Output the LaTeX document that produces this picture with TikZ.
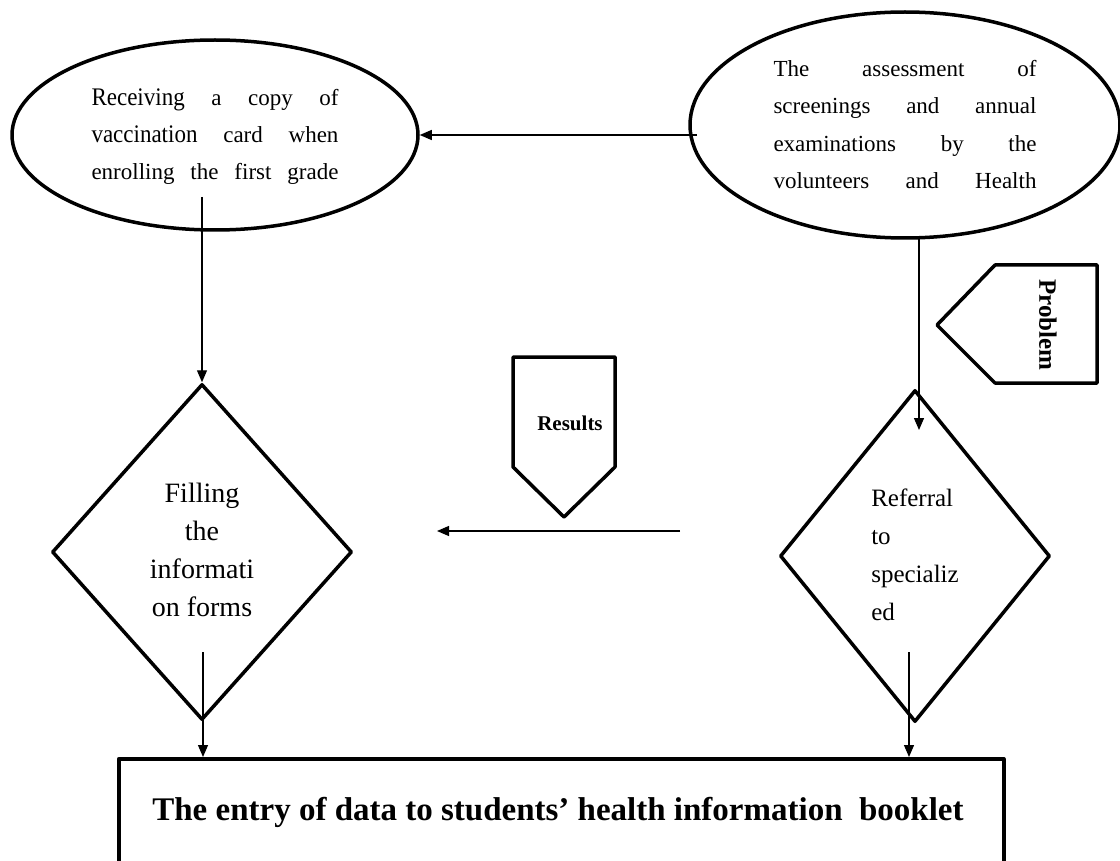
\documentclass[tikz,border=0pt]{standalone}
\usepackage{fontspec}
\setmainfont{Liberation Serif}
\usetikzlibrary{shapes.geometric,arrows.meta}
\newcommand\spreadline[2]{\makebox[#1][s]{#2}}
\begin{document}
\begin{tikzpicture}[x=1pt,y=-1pt,
  shapeline/.style={draw=black,line width=3.5pt,line join=round},
  conn/.style={draw=black,line width=1.3pt},
  arr/.style={conn,-{Triangle[length=12pt,width=10pt]}},
  oval/.style={shapeline,ellipse,inner sep=0pt},
  dia/.style={shapeline,diamond,inner sep=0pt},
  lbl/.style={inner sep=0pt}]
\useasboundingbox[fill=white] (0,0) rectangle (1120,861);
\clip (0,0) rectangle (1120,861);

% ellipses
\node[oval,minimum width=406pt,minimum height=190pt] (receive) at (215,135)
 {\fontsize{23}{37}\selectfont\begin{tabular}{@{}c@{}}
  \spreadline{247pt}{\scalebox{1}[1.1]{Receiving} a copy of}\\
  \spreadline{247pt}{\scalebox{1}[1.1]{vaccination} card when}\\
  \spreadline{247pt}{enrolling the first grade}\end{tabular}};
\node[oval,minimum width=430pt,minimum height=226pt] (assess) at (905,125)
 {\fontsize{23}{37.3}\selectfont\begin{tabular}{@{}c@{}}
  \spreadline{263pt}{The assessment of}\\
  \spreadline{263pt}{screenings and annual}\\
  \spreadline{263pt}{examinations by the}\\
  \spreadline{263pt}{volunteers and Health}\end{tabular}};

% diamonds
\node[dia,minimum width=300pt,minimum height=336pt] (fill) at (202,552)
 {\fontsize{28}{38}\selectfont\begin{tabular}{@{}c@{}}Filling\\the\\informati\\on forms\end{tabular}};
\node[dia,minimum width=270pt,minimum height=332pt] (refer) at (915,556)
 {\fontsize{25}{38}\selectfont\begin{tabular}{@{}l@{}}Referral\\to\\specializ\\ed\end{tabular}};

% results and problem tags
\draw[shapeline] (513,357) -- (615,357) -- (615,467) -- (564,517) -- (513,467) -- cycle;
\node[lbl,font=\bfseries\fontsize{21}{25}\selectfont] (results) at (570,423) {Results};
\draw[shapeline] (995,265) -- (1097,265) -- (1097,383) -- (995,383) -- (937,325) -- cycle;
\node[lbl,rotate=-90,font=\bfseries\fontsize{25}{30}\selectfont] (problem) at (1048,325) {Problem};

% bottom box
\node[shapeline,rectangle,inner sep=0pt,anchor=north west,minimum width=885pt,minimum height=200pt] (entry) at (117,757) {};
\node[lbl,font=\bfseries\fontsize{33}{38}\selectfont] (entrytext) at (558,812) {The entry of data to students’ health information\ \ booklet};

% connectors
\coordinate (c1) at (202,197);
\coordinate (c2) at (919,238);
\coordinate (c3) at (919,430);
\coordinate (c4) at (697,135);
\coordinate (c5) at (680,531);
\coordinate (c6) at (437,531);
\coordinate (c7) at (203,652);
\coordinate (c8) at (909,652);
\draw[arr] (c1) -- (fill.north);
\draw[arr] (c2) -- (c3);
\draw[arr] (c4) -- (receive.east);
\draw[arr] (c5) -- (c6);
\draw[arr] (c7) -- (c7 |- entry.north);
\draw[arr] (c8) -- (c8 |- entry.north);
\end{tikzpicture}
\end{document}
